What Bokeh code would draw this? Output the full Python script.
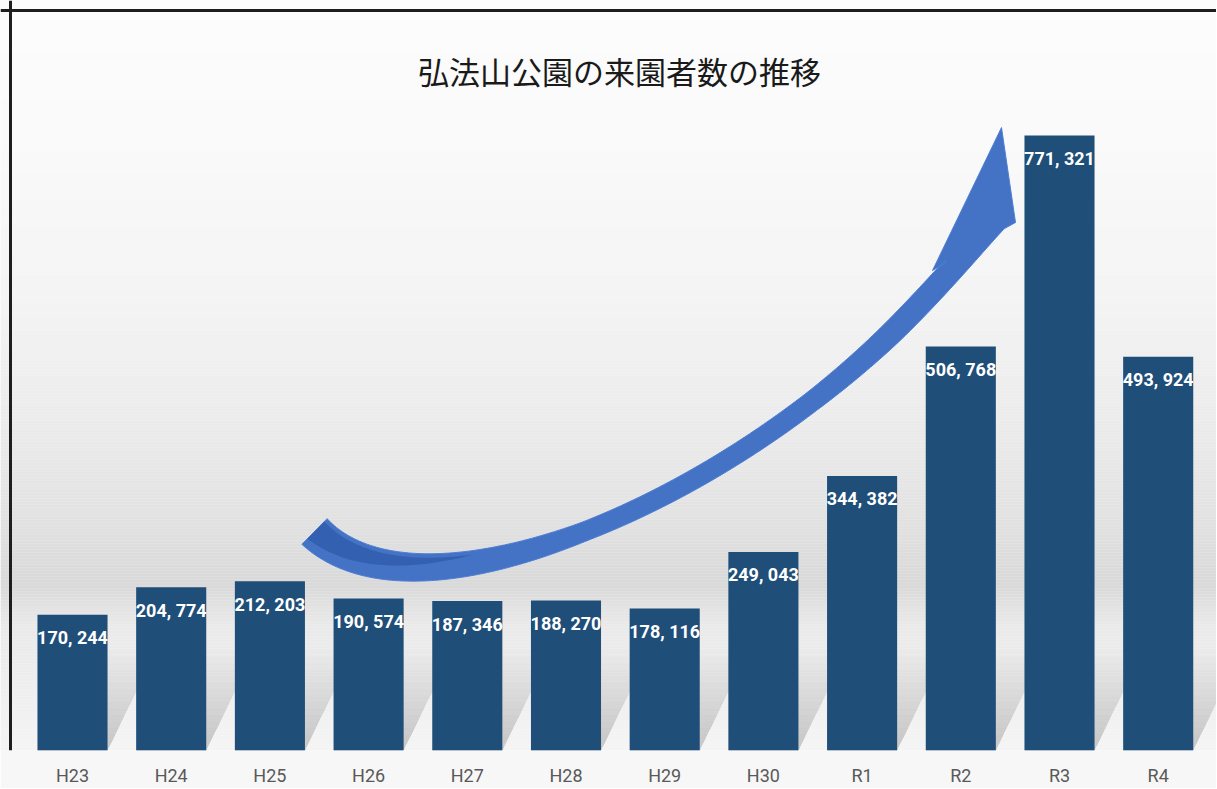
import numpy as np
from bokeh.plotting import figure
from bokeh.models import Range1d, FixedTicker, Span, ColumnDataSource
from bokeh.core.properties import value
from bokeh.embed import file_html
from bokeh.resources import INLINE

# ---------------- data ----------------
categories = ["H23", "H24", "H25", "H26", "H27", "H28", "H29", "H30", "R1", "R2", "R3", "R4"]
visitors = [170244, 204774, 212203, 190574, 187346, 188270, 178116, 249043, 344382, 506768, 771321, 493924]
title_text = "弘法山公園の来園者数の推移"

# ---------------- geometry helpers (page pixels -> data) ----------------
FRAME_W, FRAME_H = 1216, 750
PX_PER_CAT = 98.7
FIRST_CENTER_PX = 72.0
UNITS_PER_PX = 771321 / 615.0
PAGE_LEFT, PAGE_BASE = 0.0, 750.0
NARROW = "Roboto"

x_start = -FIRST_CENTER_PX / PX_PER_CAT
x_end = (FRAME_W - FIRST_CENTER_PX) / PX_PER_CAT
y_end = FRAME_H * UNITS_PER_PX


def fx(px):
    return (np.asarray(px, dtype=float) - PAGE_LEFT - FIRST_CENTER_PX) / PX_PER_CAT


def fy(py):
    return (PAGE_BASE - np.asarray(py, dtype=float)) * UNITS_PER_PX


p = figure(frame_width=FRAME_W, frame_height=FRAME_H,
           x_range=Range1d(x_start, x_end), y_range=Range1d(0, y_end),
           output_backend="svg", toolbar_location=None, y_axis_location=None,
           min_border_left=0, min_border_right=0, min_border_top=0, min_border_bottom=0)
p.outline_line_color = None
p.grid.visible = False
p.background_fill_color = "#fafafa"
p.border_fill_color = "#f7f7f7"

# ---------------- background gradient ----------------
stops_y = [0, 150, 300, 420, 520, 585, 600, 625, 700, 750]
stops_g = [253, 250, 244, 236, 226, 217, 224, 234, 240, 245]
ys = np.arange(0, 750, 3)
grey = np.interp(ys + 1.5, stops_y, stops_g).astype(int)
bg = ColumnDataSource(dict(top=fy(ys), bottom=fy(ys + 3.2),
                           color=["#%02x%02x%02x" % (g, g, g) for g in grey]))
p.quad(left=x_start, right=x_end, top="top", bottom="bottom", fill_color="color",
       line_color=None, source=bg)

# ---------------- soft bar shadows ----------------
idx = list(range(len(categories)))
bar_w = 0.71
for k in range(14):
    dx = 0.08 + 0.032 * k
    h = 16 + 6.5 * k
    xs_sh, ys_sh = [], []
    for i in idx:
        xl, xr = i - bar_w / 2, i + bar_w / 2
        xs_sh.append([xl, xr, xr + dx, xl + dx])
        ys_sh.append([0, 0, h * UNITS_PER_PX, h * UNITS_PER_PX])
    p.patches(xs_sh, ys_sh, fill_color="#7a7a7a", fill_alpha=0.018, line_color=None)

# ---------------- arrow ----------------
P0 = np.array([314.0, 531.0])
P1 = np.array([430.0, 645.0])
P2 = np.array([800.0, 470.0])
P3 = np.array([968.0, 246.0])
t = np.linspace(0, 1, 160)[:, None]
B = (1 - t) ** 3 * P0 + 3 * (1 - t) ** 2 * t * P1 + 3 * (1 - t) * t ** 2 * P2 + t ** 3 * P3
D = 3 * (1 - t) ** 2 * (P1 - P0) + 6 * (1 - t) * t * (P2 - P1) + 3 * t ** 2 * (P3 - P2)
D = D / np.linalg.norm(D, axis=1, keepdims=True)
N = np.column_stack([D[:, 1], -D[:, 0]])  # towards the upper-left side
hw = np.interp(t[:, 0], [0, 0.2, 0.45, 0.75, 1.0], [18, 14, 9.5, 10, 13])[:, None]
upper = B + N * hw
lower = B - N * hw
# flare the shaft into the arrow-head base
s = (np.clip((t - 0.86) / 0.14, 0, 1)) ** 2
upper = (1 - s) * upper + s * np.array([944.0, 263.0])
lower = (1 - s) * lower + s * np.array([1004.0, 228.0])
head = np.array([[932, 270], [1001, 127], [1015, 222]], dtype=float)
outline = np.vstack([upper, head, lower[::-1]])
p.patch(fx(outline[:, 0]), fy(outline[:, 1]), fill_color="#4472C4", line_color="#4d7fd6", line_width=1)

# darker inner face of the twisted tail
m = t[:, 0] <= 0.3
tt = t[m, 0]
thick = np.interp(tt, [0, 0.3], [2 * 18 - 12, 0])[:, None]
iu = B[m] + N[m] * (hw[m] - 4)
il = B[m] + N[m] * (hw[m] - 4 - thick)
inner = np.vstack([iu, il[::-1]])
p.patch(fx(inner[:, 0]), fy(inner[:, 1]), fill_color="#3360B0", line_color=None)

# ---------------- bars ----------------
src = ColumnDataSource(dict(x=idx, top=visitors,
                            label=[f"{v:,}".replace(",", ", ") for v in visitors]))
p.vbar(x="x", top="top", width=bar_w, bottom=0, fill_color="#1F4E79", line_color=None, source=src)
p.text(x="x", y="top", text="label", source=src, y_offset=23,
       text_align="center", text_baseline="middle", text_color="white",
       text_font=value(NARROW), text_font_style="bold",
       text_font_size="18px")

# ---------------- title ----------------
p.text(x=[fx(619)], y=[fy(70)], text=[title_text], text_align="center",
       text_baseline="middle", text_color="#1a1a1a",
       text_font=value("Noto Sans CJK JP"), text_font_size="31px")

# ---------------- frame border (left and top) ----------------
p.add_layout(Span(location=fx(10), dimension="height", line_color="#1e1e1e", line_width=3))
p.add_layout(Span(location=fy(10), dimension="width", line_color="#1e1e1e", line_width=3))

# ---------------- x axis ----------------
ax = p.xaxis[0]
ax.ticker = FixedTicker(ticks=idx)
ax.major_label_overrides = {i: c for i, c in zip(idx, categories)}
ax.axis_line_color = None
ax.major_tick_line_color = None
ax.minor_tick_line_color = None
ax.major_label_standoff = 8
ax.major_label_text_font = NARROW
ax.major_label_text_font_size = "18px"
ax.major_label_text_color = "#595959"

open("out.html", "w").write(file_html(p, INLINE))
